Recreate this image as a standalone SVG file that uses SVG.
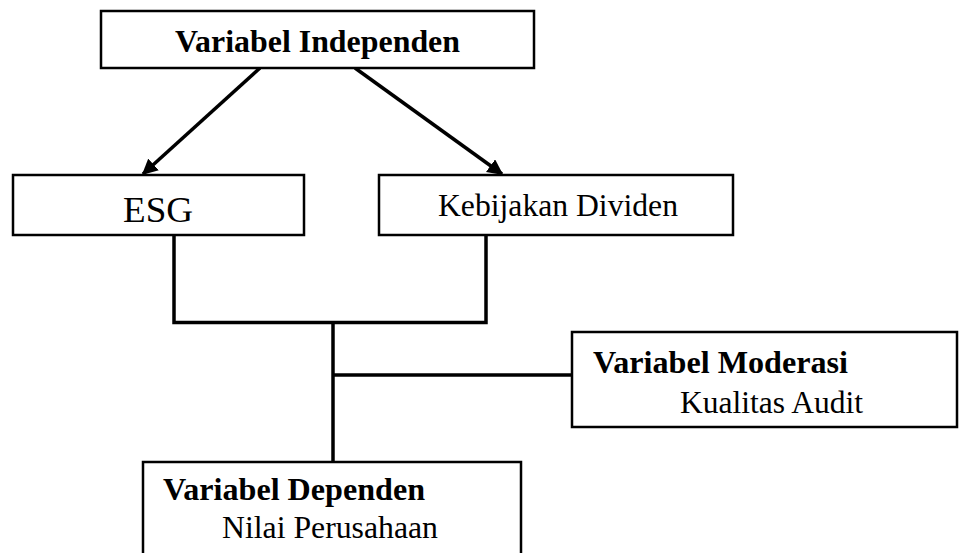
<svg xmlns="http://www.w3.org/2000/svg" width="959" height="553" viewBox="0 0 959 553">
<defs>
<style>
.box{fill:#fff;stroke:#000;stroke-width:2.5}
.ln{fill:none;stroke:#000;stroke-width:3.5}
.t{font-family:"Liberation Serif","Times New Roman",serif;fill:#000;font-size:31px}
.b{font-weight:bold}
</style>
<marker id="ah" viewBox="0 0 10 10" refX="9" refY="5" markerWidth="4.5" markerHeight="4.5" markerUnits="strokeWidth" orient="auto">
<path d="M0,0 L10,5 L0,10 z" fill="#000"/>
</marker>
</defs>
<rect width="959" height="553" fill="#fff"/>
<g id="connectors">
<line class="ln" x1="260" y1="68" x2="143" y2="174" marker-end="url(#ah)"/>
<line class="ln" x1="355" y1="68" x2="502" y2="174" marker-end="url(#ah)"/>
<polyline class="ln" points="174,236 174,322.5 486,322.5 486,236"/>
<line class="ln" x1="333" y1="322.5" x2="333" y2="461"/>
<line class="ln" x1="333" y1="375" x2="572" y2="375"/>
</g>
<g id="n-independen">
<rect class="box" x="101" y="11" width="433" height="57"/>
<text class="t b" x="317.5" y="52" text-anchor="middle" textLength="285" lengthAdjust="spacingAndGlyphs">Variabel Independen</text>
</g>
<g id="n-esg">
<rect class="box" x="13" y="175" width="291" height="60"/>
<text class="t" x="158" y="222" text-anchor="middle" style="font-size:36px" textLength="70" lengthAdjust="spacingAndGlyphs">ESG</text>
</g>
<g id="n-dividen">
<rect class="box" x="379" y="175" width="354" height="60"/>
<text class="t" x="558" y="216" text-anchor="middle" textLength="240" lengthAdjust="spacingAndGlyphs">Kebijakan Dividen</text>
</g>
<g id="n-moderasi">
<rect class="box" x="572" y="332" width="385" height="95"/>
<text class="t b" x="593" y="373" textLength="255" lengthAdjust="spacingAndGlyphs">Variabel Moderasi</text>
<text class="t" x="680" y="413" textLength="183" lengthAdjust="spacingAndGlyphs">Kualitas Audit</text>
</g>
<g id="n-dependen">
<rect class="box" x="143" y="462" width="378" height="110"/>
<text class="t b" x="163" y="500" textLength="262" lengthAdjust="spacingAndGlyphs">Variabel Dependen</text>
<text class="t" x="222" y="538" textLength="216" lengthAdjust="spacingAndGlyphs">Nilai Perusahaan</text>
</g>
</svg>
